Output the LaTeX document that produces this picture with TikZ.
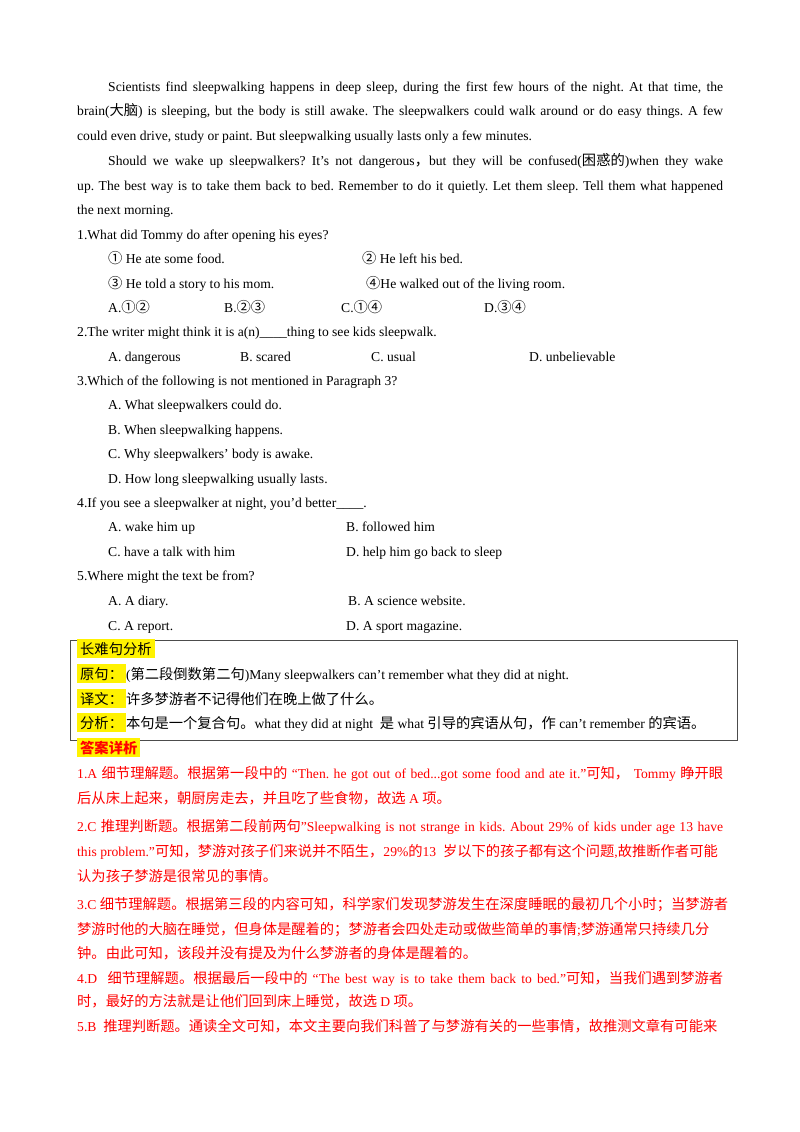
\documentclass[tikz,border=0pt]{standalone}
\usepackage{fontspec}
\setmainfont{Liberation Serif}
\newfontfamily\cjk[Scale=1.05]{Noto Sans CJK SC}
\newcommand\Z[1]{{\cjk #1}}
\newcommand\ap{\symbol{39}}
\newcommand\dq{\symbol{34}}
\frenchspacing
\begin{document}
\begin{tikzpicture}[x=1pt,y=-1pt,
  ln/.style={anchor=base west,inner sep=0,font=\fontsize{13.6}{16}\selectfont},
  rd/.style={ln,text=red}]
\useasboundingbox (0,0) rectangle (800,1132);
\fill[white] (0,0) rectangle (800,1132);
\node[ln] (p1) at (108,91) {\makebox[615pt][s]{Scientists find sleepwalking happens in deep sleep, during the first few hours of the night. At that time, the}};
\node[ln] (p2) at (77,115) {\makebox[646pt][s]{brain(\Z{大脑}) is sleeping, but the body is still awake. The sleepwalkers could walk around or do easy things. A few}};
\node[ln] (p3) at (77,140) {could even drive, study or paint. But sleepwalking usually lasts only a few minutes.};
\node[ln] (p4) at (108,165) {\makebox[615pt][s]{Should we wake up sleepwalkers? It\ap s not dangerous\Z{，}but they will be confused(\Z{困惑的})when they wake}};
\node[ln] (p5) at (77,190) {\makebox[646pt][s]{up. The best way is to take them back to bed. Remember to do it quietly. Let them sleep. Tell them what happened}};
\node[ln] (p6) at (77,214) {the next morning.};
\node[ln] (q1) at (77,239) {1.What did Tommy do after opening his eyes?};
\node[ln] (q1a) at (108,263) {\Z{①} He ate some food.};
\node[ln] (q1b) at (362,263) {\Z{②} He left his bed.};
\node[ln] (q1c) at (108,288) {\Z{③} He told a story to his mom.};
\node[ln] (q1d) at (366,288) {\Z{④}He walked out of the living room.};
\node[ln] (q1A) at (108,312) {A.\Z{①②}};
\node[ln] (q1B) at (224,312) {B.\Z{②③}};
\node[ln] (q1C) at (341,312) {C.\Z{①④}};
\node[ln] (q1D) at (484,312) {D.\Z{③④}};
\node[ln] (q2) at (77,336) {2.The writer might think it is a(n)\_\_\_\_thing to see kids sleepwalk.};
\node[ln] (q2A) at (108,361) {A. dangerous};
\node[ln] (q2B) at (240,361) {B. scared};
\node[ln] (q2C) at (371,361) {C. usual};
\node[ln] (q2D) at (529,361) {D. unbelievable};
\node[ln] (q3) at (77,385) {3.Which of the following is not mentioned in Paragraph 3?};
\node[ln] (q3A) at (108,409) {A. What sleepwalkers could do.};
\node[ln] (q3B) at (108,434) {B. When sleepwalking happens.};
\node[ln] (q3C) at (108,458) {C. Why sleepwalkers\ap\ body is awake.};
\node[ln] (q3D) at (108,483) {D. How long sleepwalking usually lasts.};
\node[ln] (q4) at (77,507) {4.If you see a sleepwalker at night, you\ap d better\_\_\_\_.};
\node[ln] (q4A) at (108,531) {A. wake him up};
\node[ln] (q4B) at (346,531) {B. followed him};
\node[ln] (q4C) at (108,556) {C. have a talk with him};
\node[ln] (q4D) at (346,556) {D. help him go back to sleep};
\node[ln] (q5) at (77,580) {5.Where might the text be from?};
\node[ln] (q5A) at (108,605) {A. A diary.};
\node[ln] (q5B) at (348,605) {B. A science website.};
\node[ln] (q5C) at (108,630) {C. A report.};
\node[ln] (q5D) at (346,630) {D. A sport magazine.};
\draw[line width=0.8pt,black!70] (70,640) rectangle (737,740);
\node[ln] (b1) at (77,654) {\Z{\colorbox{yellow}{长难句分析}}};
\node[ln] (b2) at (77,679) {\Z{\colorbox{yellow}{原句：}}(\Z{第二段倒数第二句})Many sleepwalkers can\ap t remember what they did at night.};
\node[ln] (b3) at (77,704) {\Z{\colorbox{yellow}{译文：}许多梦游者不记得他们在晚上做了什么。}};
\node[ln] (b4) at (77,728) {\Z{\colorbox{yellow}{分析：}本句是一个复合句。}what they did at night\ \ \Z{是} what \Z{引导的宾语从句，作} can\ap t remember \Z{的宾语。}};
\node[rd] (a0) at (77,753) {\Z{\colorbox{yellow}{\bfseries 答案详析}}};
\node[rd] (a1) at (77,778) {\makebox[646pt][s]{1.A \Z{细节理解题。根据第一段中的} “Then. he got out of bed...got some food and ate it.”\Z{可知，} Tommy \Z{睁开眼}}};
\node[rd] (a2) at (77,803) {\Z{后从床上起来，朝厨房走去，并且吃了些食物，故选} A \Z{项。}};
\node[rd] (a3) at (77,831) {\makebox[646pt][s]{2.C \Z{推理判断题。根据第二段前两句}\dq Sleepwalking is not strange in kids. About 29\% of kids under age 13 have}};
\node[rd] (a4) at (77,856) {this problem.\dq\Z{可知，梦游对孩子们来说并不陌生，}29\%\Z{的}13\ \ \Z{岁以下的孩子都有这个问题}{,}\Z{故推断作者可能}};
\node[rd] (a5) at (77,881) {\Z{认为孩子梦游是很常见的事情。}};
\node[rd] (a6) at (77,909) {3.C \Z{细节理解题。根据第三段的内容可知，科学家们发现梦游发生在深度睡眠的最初几个小时；当梦游者}};
\node[rd] (a7) at (77,934) {\Z{梦游时他的大脑在睡觉，但身体是醒着的；梦游者会四处走动或做些简单的事情}{;}\Z{梦游通常只持续几分}};
\node[rd] (a8) at (77,958) {\Z{钟。由此可知，该段并没有提及为什么梦游者的身体是醒着的。}};
\node[rd] (a9) at (77,983) {\makebox[646pt][s]{4.D\ \ \Z{细节理解题。根据最后一段中的} “The best way is to take them back to bed.”\Z{可知，当我们遇到梦游者}}};
\node[rd] (a10) at (77,1006) {\Z{时，最好的方法就是让他们回到床上睡觉，故选} D \Z{项。}};
\node[rd] (a11) at (77,1031) {5.B\ \ \Z{推理判断题。通读全文可知，本文主要向我们科普了与梦游有关的一些事情，故推测文章有可能来}};
\end{tikzpicture}
\end{document}
